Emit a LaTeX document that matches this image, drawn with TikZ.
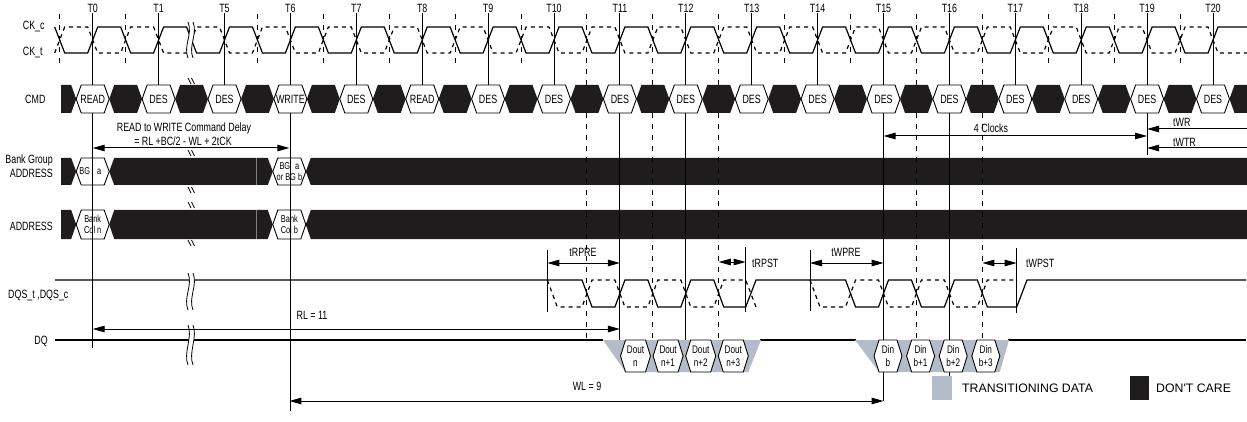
\documentclass[tikz,border=0pt]{standalone}
\usepackage{fontspec}
\setmainfont{Liberation Sans}[FakeStretch=0.74]
\newfontfamily\legendfont{Liberation Sans}
\usetikzlibrary{arrows.meta}
\definecolor{tdata}{RGB}{180,188,202}
\definecolor{dcare}{RGB}{30,28,28}

\begin{document}
\begin{tikzpicture}[x=1pt, y=-1pt,
  wave/.style={line width=1.2pt},
  cwave/.style={line width=1.2pt, dash pattern=on 4pt off 4pt},
  tline/.style={line width=1pt},
  hline/.style={line width=1pt, dash pattern=on 5pt off 6pt},
  dim/.style={line width=1pt, {Triangle[length=12pt,width=6.5pt]}-{Triangle[length=12pt,width=6.5pt]}},
  ldim/.style={line width=1pt, -{Triangle[length=12pt,width=6.5pt]}},
  lbl/.style={font=\fontsize{12}{14}\selectfont, inner sep=0pt},
  hexlbl/.style={font=\fontsize{10}{11.5}\selectfont, inner sep=0pt, align=center},
  dlbl/.style={font=\fontsize{11}{13}\selectfont, inner sep=0pt, align=center},
  hexw/.style={draw, line width=0.9pt, fill=white},
  hexb/.style={fill=dcare},
  brk/.style={line width=0.8pt}]
\useasboundingbox (0,0) rectangle (1247,422);

\foreach \yt/\yb in {158/185, 210/239}{
  \pgfmathsetmacro\ym{(\yt+\yb)/2}
  \fill[hexb] (61,\yt) -- (71.2,\yt) -- (76.2,\ym) -- (71.2,\yb) -- (61,\yb) -- cycle;
  \fill[hexb] (109.2,\ym) -- (114.2,\yt) -- (256.7,\yt) -- (256.7,\yb) -- (114.2,\yb) -- cycle;
  \fill[hexb] (256.7,\yt) -- (267.8,\yt) -- (272.8,\ym) -- (267.8,\yb) -- (256.7,\yb) -- cycle;
  \draw[gray, line width=0.6pt] (256.7,\yt) -- (256.7,\yb);
  \fill[hexb] (305.8,\ym) -- (310.8,\yt) -- (1247,\yt) -- (1247,\yb) -- (310.8,\yb) -- cycle;
  \draw[hexw] (76.2,\ym) -- (81.2,\yt) -- (104.2,\yt) -- (109.2,\ym) -- (104.2,\yb) -- (81.2,\yb) -- cycle;
  \draw[hexw] (272.8,\ym) -- (277.8,\yt) -- (300.8,\yt) -- (305.8,\ym) -- (300.8,\yb) -- (277.8,\yb) -- cycle;
}

\foreach \k/\e in {0/348,1/85,2/85,3/411,4/85,5/85,6/85,7/85,8/340,9/340,10/85,11/85,12/401,13/381,14/85,15/85,16/155,17/85}
  \draw[tline] ({92.7+65.9*\k},13) -- ({92.7+65.9*\k},\e);
\foreach \k/\e in {-1/64,0/64,2/64,3/64,4/64,5/64,6/64,7/342,8/342,9/342,10/64,11/64,12/340,13/340,14/64,15/64,16/64}
  \draw[hline] ({125.65+65.9*\k},14) -- ({125.65+65.9*\k},\e);

\fill[hexb] (61,85) -- (71.2,85) -- (76.2,99) -- (71.2,113) -- (61,113) -- cycle;
\foreach \k/\t/\c in {0/T0/READ,1/T1/DES,2/T5/DES,3/T6/WRITE,4/T7/DES,5/T8/READ,6/T9/DES,7/T10/DES,8/T11/DES,9/T12/DES,10/T13/DES,11/T14/DES,12/T15/DES,13/T16/DES,14/T17/DES,15/T18/DES,16/T19/DES,17/T20/DES}{
  \pgfmathsetmacro\xx{92.7+65.9*\k}
  \fill[hexb] (\xx+16.5,99) -- (\xx+21.5,85) -- (\xx+44.4,85) -- (\xx+49.4,99) -- (\xx+44.4,113) -- (\xx+21.5,113) -- cycle;
  \draw[hexw] (\xx-16.5,99) -- (\xx-11.5,85) -- (\xx+11.5,85) -- (\xx+16.5,99) -- (\xx+11.5,113) -- (\xx-11.5,113) -- cycle;
  \node[lbl] (c\k) at (\xx,99) {\c};
  \node[lbl] (t\k) at (\xx,8) {\t};
}

\draw[wave] (54.7,27) -- (64.7,53) foreach \k in {0,...,16}{ -- ({87.7+65.9*\k},53) -- ({97.7+65.9*\k},27) -- ({120.65+65.9*\k},27) -- ({130.65+65.9*\k},53)} -- (1208,53) -- (1218,27) -- (1247,27);
\draw[cwave] (54.7,53) -- (64.7,27) foreach \k in {0,...,16}{ -- ({87.7+65.9*\k},27) -- ({97.7+65.9*\k},53) -- ({120.65+65.9*\k},53) -- ({130.65+65.9*\k},27)} -- (1208,27) -- (1218,53) -- (1247,53);

\draw[wave] (55,280) -- (582,280) -- (592,307) -- (614.9,307) -- (624.9,280) -- (647.85,280) -- (657.85,307) -- (680.8,307) -- (690.8,280) -- (713.75,280) -- (723.75,307) -- (745.7,307) -- (756,280) -- (845.55,280) -- (855.55,307) -- (878.5,307) -- (888.5,280) -- (911.45,280) -- (921.45,307) -- (944.4,307) -- (954.4,280) -- (977.35,280) -- (987.35,307) -- (1016.7,307) -- (1027,280) -- (1246,280);
\draw[cwave] (547.3,280) -- (557.3,307) -- (582,307) -- (592,280) -- (614.9,280) -- (624.9,307) -- (647.85,307) -- (657.85,280) -- (680.8,280) -- (690.8,307) -- (713.75,307) -- (723.75,280) -- (745.7,280) -- (756,307);
\draw[cwave] (810,280) -- (820,307) -- (845.55,307) -- (855.55,280) -- (878.5,280) -- (888.5,307) -- (911.45,307) -- (921.45,280) -- (944.4,280) -- (954.4,307) -- (977.35,307) -- (987.35,280) -- (1016.7,280);
\foreach \x/\ya/\yb in {547.3/250/312, 745.7/247/312, 810/250/311, 1016.7/248/313}
  \draw[tline] (\x,\ya) -- (\x,\yb);

\draw[wave] (55,340) -- (603,340) (760,340) -- (856,340) (1008,340) -- (1246,340);
\fill[tdata] (603,340) -- (761,340) -- (748.3,372) -- (625.5,372) -- cycle;
\fill[tdata] (855,340) -- (1009,340) -- (999.8,372) -- (879,372) -- cycle;
\foreach \k/\c in {0/n,1/n+1,2/n+2,3/n+3}{
  \pgfmathsetmacro\xx{635.5+32.6*\k}
  \draw[hexw] (\xx-15,356) -- (\xx-10,340) -- (\xx+10,340) -- (\xx+15,356) -- (\xx+10,372) -- (\xx-10,372) -- cycle;
  \node[dlbl] (dout\k) at (\xx,356) {Dout\\\c};
}
\foreach \k/\c in {0/b,1/b+1,2/b+2,3/b+3}{
  \pgfmathsetmacro\xx{888+32.6*\k}
  \draw[hexw] (\xx-14,356) -- (\xx-9,340) -- (\xx+9,340) -- (\xx+14,356) -- (\xx+9,372) -- (\xx-9,372) -- cycle;
  \node[dlbl] (din\k) at (\xx,356) {Din\\\c};
}

\foreach \ya/\yb in {22/58, 273/310, 325/365}{
  \fill[white] (188,\ya) .. controls (193,\ya+12) and (183,\yb-12) .. (188,\yb) -- (193,\yb) .. controls (188,\yb-12) and (198,\ya+12) .. (193,\ya) -- cycle;
  \draw[brk] (188,\ya) .. controls (193,\ya+12) and (183,\yb-12) .. (188,\yb);
  \draw[brk] (193,\ya) .. controls (198,\ya+12) and (188,\yb-12) .. (193,\yb);
}
\foreach \y in {78,150,187,202,240}{
  \draw[brk] (188,\y) .. controls (191,\y+2) and (188,\y+4) .. (191,\y+6);
  \draw[brk] (191.5,\y) .. controls (194.5,\y+2) and (191.5,\y+4) .. (194.5,\y+6);
}

\coordinate (rw0) at (92.7,148); \coordinate (rw1) at (289.4,148);
\coordinate (ck0) at (883.5,136); \coordinate (ck1) at (1147.1,136);
\coordinate (wr0) at (1247,129); \coordinate (wr1) at (1147.1,129);
\coordinate (wt0) at (1247,148); \coordinate (wt1) at (1147.1,148);
\coordinate (rp0) at (547.3,263); \coordinate (rp1) at (619.9,263);
\coordinate (rs0) at (718.75,262); \coordinate (rs1) at (745.7,262);
\coordinate (wp0) at (810,263); \coordinate (wp1) at (883.5,263);
\coordinate (ws0) at (982.35,263); \coordinate (ws1) at (1016.7,263);
\coordinate (rl0) at (92.7,329); \coordinate (rl1) at (619.9,329);
\coordinate (wl0) at (289.4,401); \coordinate (wl1) at (883.5,401);
\draw[dim] (rw0) -- (rw1);
\draw[dim] (ck0) -- (ck1);
\draw[ldim] (wr0) -- (wr1);
\draw[ldim] (wt0) -- (wt1);
\draw[dim] (rp0) -- (rp1);
\draw[dim] (rs0) -- (rs1);
\draw[dim] (wp0) -- (wp1);
\draw[dim] (ws0) -- (ws1);
\draw[dim] (rl0) -- (rl1);
\draw[dim] (wl0) -- (wl1);

\node[lbl] (rwtxt) at (184,128) {READ to WRITE Command Delay};
\node[lbl] (rwval) at (183,141) {= RL +BC/2 - WL + 2tCK};
\node[lbl] (cktxt) at (991,128) {4 Clocks};
\node[lbl, anchor=west] (wrtxt) at (1173,122) {tWR};
\node[lbl, anchor=west] (wttxt) at (1173,142) {tWTR};
\node[lbl] (rptxt) at (583,252) {tRPRE};
\node[lbl, anchor=west] (rstxt) at (752,263) {tRPST};
\node[lbl] (wptxt) at (846,252) {tWPRE};
\node[lbl, anchor=west] (wstxt) at (1026,263) {tWPST};
\node[lbl] (rltxt) at (312,315) {RL = 11};
\node[lbl] (wltxt) at (587,386) {WL = 9};

\node[hexlbl] (bga) at (90.3,171.5) {BG\hspace{7pt}a};
\node[hexlbl] (bgb) at (289.4,171.5) {BG\hspace{5pt}a\\or BG b};
\node[hexlbl] (coln) at (92.7,224.5) {Bank\\Col n};
\node[hexlbl] (colb) at (289.4,224.5) {Bank\\Col b};

\node[lbl, anchor=west] (ckc) at (22.7,27) {CK\_c};
\node[lbl, anchor=west] (ckt) at (22.7,53) {CK\_t};
\node[lbl, anchor=west] (cmd) at (25,99) {CMD};
\node[lbl, anchor=east, align=right] (bgaddr) at (53,166.5) {Bank Group\\ADDRESS};
\node[lbl, anchor=east] (addr) at (53,226) {ADDRESS};
\node[lbl, anchor=west] (dqs) at (8,296) {DQS\_t ,DQS\_c};
\node[lbl, anchor=east] (dq) at (48,341) {DQ};

\fill[tdata] (932,376) rectangle (952,400);
\node[anchor=west, inner sep=0pt, font=\legendfont\fontsize{12.3}{14}\selectfont] (legtd) at (962,388) {TRANSITIONING DATA};
\fill[dcare] (1130,376) rectangle (1149,400);
\node[anchor=west, inner sep=0pt, font=\legendfont\fontsize{12.3}{14}\selectfont] (legdc) at (1156,388) {DON'T CARE};
\end{tikzpicture}
\end{document}
